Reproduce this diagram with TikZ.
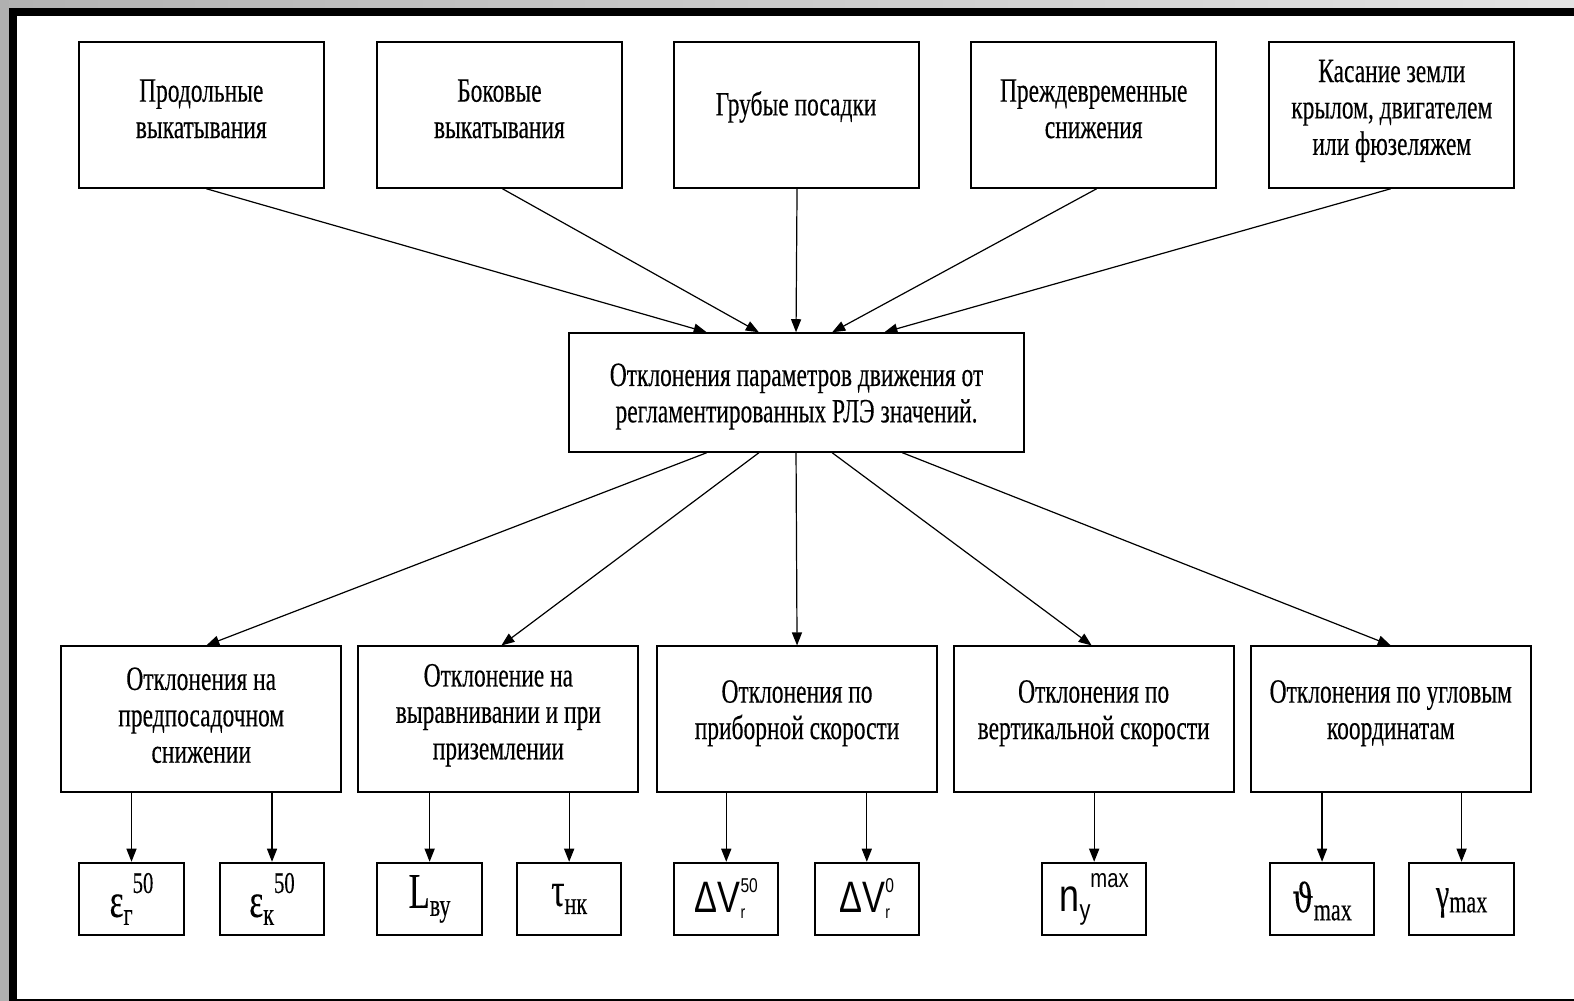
\documentclass[tikz,border=0pt]{standalone}
\usepackage{fontspec}
\setmainfont{Liberation Serif}[FakeStretch=0.69,FakeBold=0.25]
\newfontfamily\arialf{Liberation Sans}[FakeStretch=0.78]
\newfontfamily\djserif{DejaVu Serif}[FakeStretch=0.75,FakeBold=0.2]
\usetikzlibrary{arrows.meta,calc}
\newcommand{\fs}[1]{\fontsize{#1}{#1}\selectfont}
\begin{document}
\begin{tikzpicture}[x=0.5bp,y=-0.5bp,
  box/.style={draw, line width=1bp, inner sep=0pt},
  txt/.style={align=center, inner sep=0pt, font=\fontsize{17}{18.2}\selectfont},
  topbox/.style={box, minimum width=122bp, minimum height=72.5bp},
  midbox/.style={box, minimum width=139.5bp, minimum height=72.5bp},
  cenbox/.style={box, minimum width=226.5bp, minimum height=59bp},
  botbox/.style={box, minimum width=52bp, minimum height=36bp},
  arr/.style={-{Triangle[length=6.5bp,width=5bp]}, line width=0.6bp}]
\useasboundingbox (0,0) rectangle (1568,997);
\fill[gray!35] (0,0) rectangle (1568,997);
\shade[left color=gray!60, right color=gray!22] (0,0) rectangle (1568,8);
\fill[gray!62] (0,0) rectangle (9,997);
\fill[black] (9,8) rectangle (1568,997);
\fill[white] (17,16) rectangle (1568,995);

% top row
\node[topbox, label={[txt,yshift=3bp]center:{Продольные\\выкатывания}}] (t1) at (200.5,114.5) {};
\node[topbox, label={[txt,yshift=3bp]center:{Боковые\\выкатывания}}] (t2) at (497.5,114.5) {};
\node[topbox, label={[txt,yshift=4bp]center:{Грубые посадки}}] (t3) at (793,114.5) {};
\node[topbox, label={[txt,yshift=3bp]center:{Преждевременные\\снижения}}] (t4) at (1089.5,114.5) {};
\node[topbox, label={[txt,yshift=2bp]center:{Касание земли\\крылом, двигателем\\или фюзеляжем}}] (t5) at (1386.5,114.5) {};

% center
\node[cenbox, label={[txt,yshift=-2bp]center:{Отклонения параметров движения от\\регламентированных РЛЭ значений.}}] (c) at (793.5,391) {};

% middle row
\node[midbox, label={[txt,yshift=2bp]center:{Отклонения на\\предпосадочном\\снижении}}] (m1) at (200.5,716.5) {};
\node[midbox, label={[txt,yshift=2bp]center:{Отклонение на\\выравнивании и при\\приземлении}}] (m2) at (496.5,716.5) {};
\node[midbox, label={[txt,yshift=3bp]center:{Отклонения по\\приборной скорости}}] (m3) at (794,716.5) {};
\node[midbox, label={[txt,yshift=3bp]center:{Отклонения по\\вертикальной скорости}}] (m4) at (1089.5,716.5) {};
\node[midbox, label={[txt,yshift=3bp]center:{Отклонения по угловым\\координатам}}] (m5) at (1385.5,716.5) {};

% bottom row
\node[botbox, label={[txt]center:{\fs{24}ε\raisebox{-4pt}{\fs{16}г}\raisebox{12pt}{\fs{15}50}}}] (b1) at (131,895.5) {};
\node[botbox, label={[txt]center:{\fs{24}ε\raisebox{-4pt}{\fs{16}к}\raisebox{12pt}{\fs{15}50}}}] (b2) at (271,895.5) {};
\node[botbox, label={[txt]center:{\fs{25}L\raisebox{-4pt}{\fs{16}ву}}}] (b3) at (428,895.5) {};
\node[botbox, label={[txt]center:{\fs{24}τ\raisebox{-4pt}{\fs{16}нк}}}] (b4) at (567,895.5) {};
\node[botbox, label={[txt]center:{\arialf\fs{22}ΔV\rlap{\raisebox{-3pt}{\fs{9}r}}\raisebox{10pt}{\fs{10}50}}}] (b5) at (723.5,895.5) {};
\node[botbox, label={[txt]center:{\arialf\fs{22}ΔV\rlap{\raisebox{-3pt}{\fs{9}r}}\raisebox{10pt}{\fs{10}0}}}] (b6) at (863.5,895.5) {};
\node[botbox, label={[txt]center:{\arialf\fs{23}n\raisebox{-4pt}{\fs{14}y}\raisebox{12pt}{\fs{13}max}}}] (b7) at (1090,895.5) {};
\node[botbox, label={[txt,yshift=-1bp]center:{{\djserif\fs{20}ϑ}\raisebox{-4pt}{\fs{16}max}}}] (b8) at (1317,895.5) {};
\node[botbox, label={[txt,yshift=-2bp]center:{\fs{22}γ\raisebox{-2pt}{\fs{16}max}}}] (b9) at (1456,895.5) {};

% top -> center
\draw[arr] ($(t1.south)+(5,0)$) -- ($(c.north west)+(138,0)$);
\draw[arr] ($(t2.south)+(3,0)$) -- ($(c.north west)+(190,0)$);
\draw[arr] ($(t3.south)+(1,0)$) -- ($(c.north west)+(227,0)$);
\draw[arr] ($(t4.south)+(3,0)$) -- ($(c.north west)+(263,0)$);
\draw[arr] ($(t5.south)+(-1,0)$) -- ($(c.north west)+(315,0)$);

% center -> middle
\draw[arr] ($(c.south west)+(138,0)$) -- ($(m1.north)+(5,0)$);
\draw[arr] ($(c.south west)+(190,0)$) -- ($(m2.north)+(3,0)$);
\draw[arr] ($(c.south west)+(227,0)$) -- (m3.north);
\draw[arr] ($(c.south west)+(263,0)$) -- ($(m4.north)+(-2,0)$);
\draw[arr] ($(c.south west)+(333,0)$) -- (m5.north);

% middle -> bottom
\draw[arr] (b1.north |- m1.south) -- (b1.north);
\draw[arr] (b2.north |- m1.south) -- (b2.north);
\draw[arr] (b3.north |- m2.south) -- (b3.north);
\draw[arr] (b4.north |- m2.south) -- (b4.north);
\draw[arr] (b5.north |- m3.south) -- (b5.north);
\draw[arr] (b6.north |- m3.south) -- (b6.north);
\draw[arr] (b7.north |- m4.south) -- (b7.north);
\draw[arr] (b8.north |- m5.south) -- (b8.north);
\draw[arr] (b9.north |- m5.south) -- (b9.north);
\end{tikzpicture}
\end{document}
